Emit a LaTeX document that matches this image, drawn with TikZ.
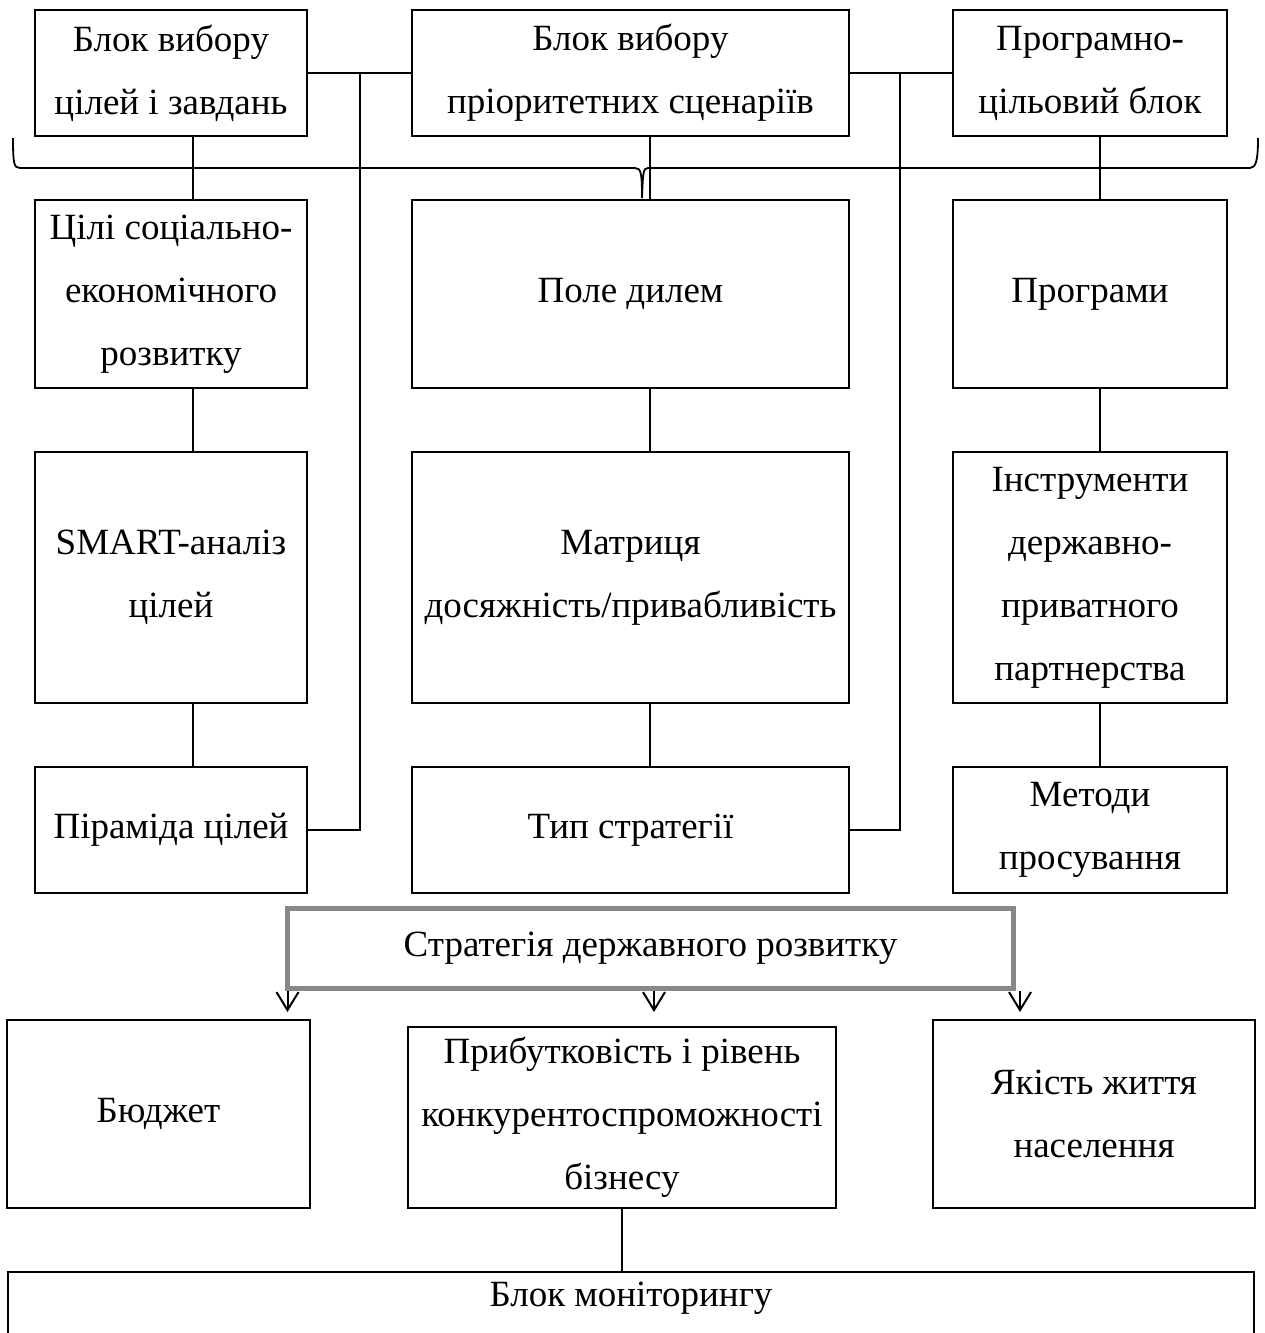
\documentclass[tikz,border=0pt]{standalone}
\usepackage{fontspec}
\setmainfont{Liberation Serif}
\usepackage{xcolor}
\usetikzlibrary{arrows.meta, positioning, calc}
\definecolor{stratgray}{RGB}{136,136,136}

\begin{document}
\begin{tikzpicture}[x=0.5pt, y=-0.5pt,
  every node/.style={font=\fontsize{18.5}{31.5}\selectfont},
  box/.style={draw, line width=1pt, align=center, inner sep=0pt},
  link/.style={line width=1pt},
  arr/.style={line width=1pt, -{Straight Barb[length=9pt, width=11pt]}}]
  \useasboundingbox (0,0) rectangle (1264,1333);
  \clip (0,0) rectangle (1264,1333);
  % Top blocks
  \node[box, minimum width=136pt, minimum height=63pt] (goals) at (171,73) {Блок вибору\\цілей і завдань};
  \node[box, minimum width=218.5pt, minimum height=63pt] (scen) at (630.5,73) {Блок вибору\\пріоритетних сценаріїв};
  \node[box, minimum width=137pt, minimum height=63pt] (prog) at (1090,73) {Програмно-\\цільовий блок};
  % Second row
  \node[box, minimum width=136pt, minimum height=94pt] (aims) at (171,294) {Цілі соціально-\\економічного\\розвитку};
  \node[box, minimum width=218.5pt, minimum height=94pt] (dilem) at (630.5,294) {Поле дилем};
  \node[box, minimum width=137pt, minimum height=94pt] (progs) at (1090,294) {Програми};
  % Third row
  \node[box, minimum width=136pt, minimum height=125.5pt] (smart) at (171,577.5) {SMART-аналіз\\цілей};
  \node[box, minimum width=218.5pt, minimum height=125.5pt] (matrix) at (630.5,577.5) {Матриця\\досяжність/привабливість};
  \node[box, minimum width=137pt, minimum height=125.5pt] (ppp) at (1090,577.5) {Інструменти\\державно-\\приватного\\партнерства};
  % Fourth row
  \node[box, minimum width=136pt, minimum height=63pt] (pyr) at (171,830) {Піраміда цілей};
  \node[box, minimum width=218.5pt, minimum height=63pt] (stype) at (630.5,830) {Тип стратегії};
  \node[box, minimum width=137pt, minimum height=63pt] (methods) at (1090,830) {Методи\\просування};
  % Strategy
  \node[box, draw=stratgray, line width=2.5pt, minimum width=363pt, minimum height=40pt] (strat) at (650.5,948.5) {Стратегія державного розвитку};
  % Results
  \node[box, minimum width=151.5pt, minimum height=94pt] (budget) at (158.5,1114) {Бюджет};
  \node[box, minimum width=214pt, minimum height=90.5pt] (profit) at (622,1117.5) {Прибутковість і рівень\\конкурентоспроможності\\бізнесу};
  \node[box, minimum width=161pt, minimum height=94pt] (life) at (1094,1114) {Якість життя\\населення};
  % Monitoring
  \node[box, minimum width=623pt, minimum height=80pt, anchor=north] (monitor) at (631,1271) {};
  \node[anchor=base] (montext) at (631,1306) {Блок моніторингу};

  % Connections
  \coordinate (colL) at (193,0);
  \coordinate (colM) at (650,0);
  \coordinate (colR) at (1100,0);
  \coordinate (jl) at (360,73);
  \coordinate (jr) at (900,73);
  \draw[link] (goals.east) -- (scen.west);
  \draw[link] (scen.east) -- (prog.west);
  \draw[link] (jl) |- (pyr.east);
  \draw[link] (jr) |- (stype.east);
  \foreach \a/\b/\c in {goals/aims/colL, aims/smart/colL, smart/pyr/colL,
                        scen/dilem/colM, dilem/matrix/colM, matrix/stype/colM,
                        prog/progs/colR, progs/ppp/colR, ppp/methods/colR}
    \draw[link] (\a.south -| \c) -- (\b.north -| \c);
  \draw[link] (profit.south) -- (profit.south |- monitor.north);

  % Brace
  \draw[line width=0.9pt] (13,138) .. controls (13,164) and (14,168) .. (20,168)
    -- (635,168) .. controls (641,168) and (642,173) .. (642,198)
    .. controls (643,173) and (643,168) .. (648,168)
    -- (1250,168) .. controls (1256,168) and (1258,160) .. (1258,138);

  % Arrows
  \coordinate (tipL) at (287.5,1012);
  \coordinate (tipM) at (654,1012);
  \coordinate (tipR) at (1020,1012);
  \foreach \t in {tipL, tipM, tipR}
    \draw[arr] (strat.south -| \t) -- (\t);
\end{tikzpicture}
\end{document}
